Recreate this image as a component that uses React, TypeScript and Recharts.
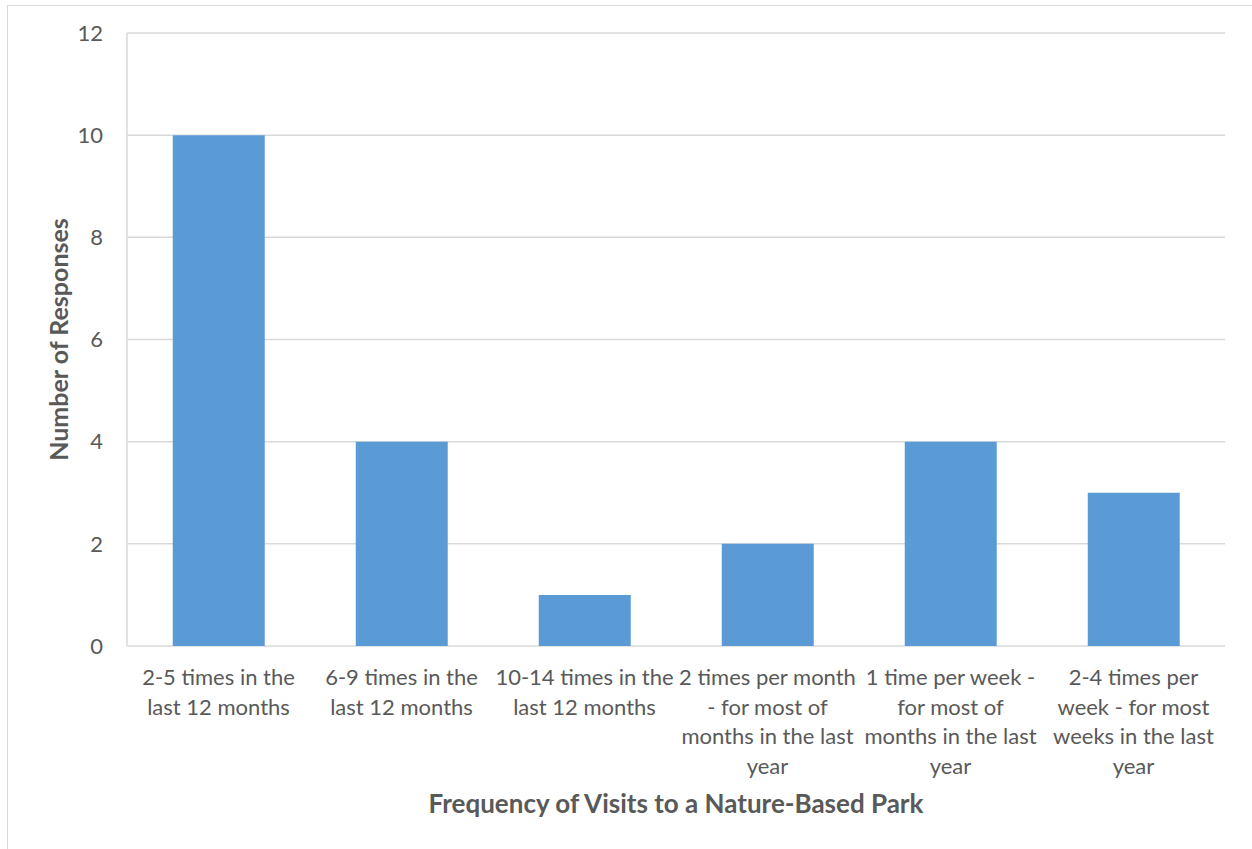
import React from "react";
import {
  BarChart,
  Bar,
  XAxis,
  YAxis,
  CartesianGrid,
  ReferenceLine,
} from "recharts";

const categories = [
  "2-5 times in the\nlast 12 months",
  "6-9 times in the\nlast 12 months",
  "10-14 times in the\nlast 12 months",
  "2 times per month\n- for most of\nmonths in the last\nyear",
  "1 time per week -\nfor most of\nmonths in the last\nyear",
  "2-4 times per\nweek - for most\nweeks in the last\nyear",
];
const responses = [10, 4, 1, 2, 4, 3];
const yTicks = [0, 2, 4, 6, 8, 10, 12];
const boundaryTicks = [0, 1, 2, 3, 4, 5, 6];

const data = categories.map((label, i) => ({ label, responses: responses[i] }));

const FONT = "Lato, 'Open Sans', sans-serif";
const TEXT = "#595959";
const GRID = "#d9d9d9";

function CategoryTick(props: any) {
  const { x, y, payload } = props;
  const lines = String(payload.value).split("\n");
  return (
    <text
      x={x}
      y={y + 39}
      textAnchor="middle"
      fill={TEXT}
      fontSize={22}
      fontFamily={FONT}
    >
      {lines.map((l, i) => (
        <tspan key={i} x={x} dy={i === 0 ? 0 : 29.5}>
          {l}
        </tspan>
      ))}
    </text>
  );
}

function XTitle(props: any) {
  const { viewBox } = props;
  return (
    <text
      x={viewBox.x + viewBox.width / 2}
      y={813}
      textAnchor="middle"
      fill={TEXT}
      fontSize={26}
      fontWeight="bold"
      fontFamily={FONT}
    >
      Frequency of Visits to a Nature-Based Park
    </text>
  );
}

function YTitle(props: any) {
  const { viewBox } = props;
  const cx = 68;
  const cy = viewBox.y + viewBox.height / 2;
  return (
    <text
      x={cx}
      y={cy}
      textAnchor="middle"
      fill={TEXT}
      fontSize={25}
      fontWeight="bold"
      fontFamily={FONT}
      transform={`rotate(-90, ${cx}, ${cy})`}
    >
      Number of Responses
    </text>
  );
}

export default function App() {
  return (
    <div
      style={{
        position: "absolute",
        left: 0,
        top: 0,
        width: 1252,
        height: 849,
        overflow: "hidden",
        background: "#fff",
      }}
    >
      <div
        style={{
          position: "absolute",
          left: 7,
          top: 5,
          width: 1400,
          height: 1000,
          border: `1.5px solid ${GRID}`,
        }}
      />
      <BarChart
        width={1252}
        height={849}
        data={data}
        margin={{ top: 33, right: 27, left: 0, bottom: 0 }}
        barCategoryGap="25%"
        style={{ position: "absolute", left: 0, top: 0 }}
      >
        <CartesianGrid vertical={false} stroke={GRID} strokeWidth={1.5} />
        <XAxis
          xAxisId="bounds"
          type="number"
          domain={[0, 6]}
          ticks={boundaryTicks}
          tickFormatter={() => ""}
          tickLine={{ stroke: GRID, strokeWidth: 1.5 }}
          tickSize={7}
          height={0}
          stroke={GRID}
          strokeWidth={1.5}
        />
        <XAxis
          xAxisId="cat"
          dataKey="label"
          type="category"
          interval={0}
          axisLine={false}
          tickLine={false}
          tickSize={0}
          tickMargin={0}
          height={203}
          tick={<CategoryTick />}
          label={<XTitle />}
        />
        <YAxis
          domain={[0, 12]}
          ticks={yTicks}
          width={127}
          axisLine={{ stroke: GRID, strokeWidth: 1.5 }}
          tickLine={false}
          tickSize={0}
          tickMargin={24}
          tick={{ fill: TEXT, fontSize: 22, fontFamily: FONT }}
          label={<YTitle />}
        />
        <ReferenceLine
          xAxisId="bounds"
          x={6}
          stroke={GRID}
          strokeWidth={1.5}
        />
        <Bar
          xAxisId="cat"
          dataKey="responses"
          fill="#5B9BD5"
          isAnimationActive={false}
        />
      </BarChart>
    </div>
  );
}
